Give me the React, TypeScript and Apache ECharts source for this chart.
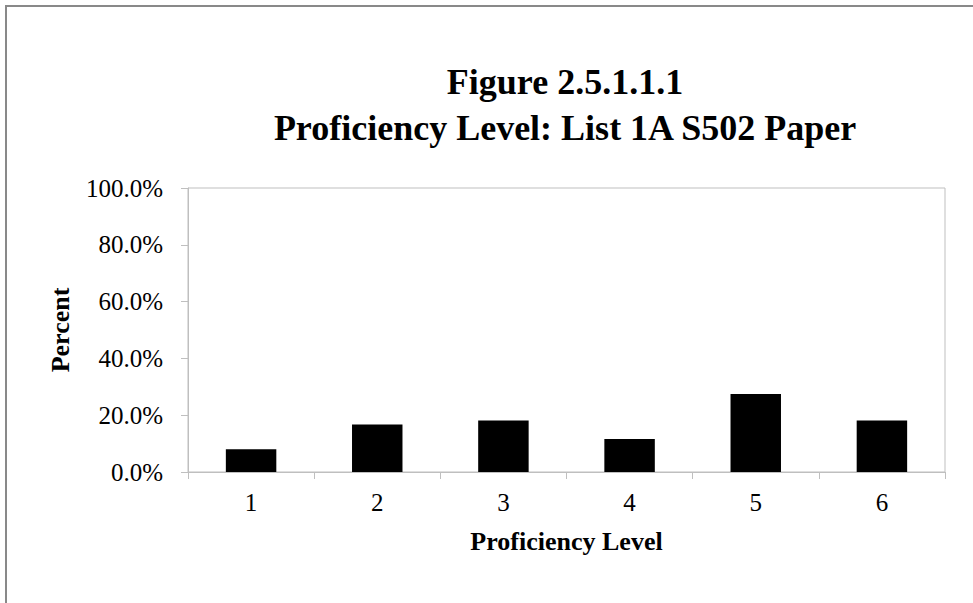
import React, { useEffect, useRef } from "react";
import * as echarts from "echarts";

const categories = ["1", "2", "3", "4", "5", "6"];
const percentValues = [8.0, 16.7, 18.1, 11.6, 27.5, 18.1];
const titleLines = ["Figure 2.5.1.1.1", "Proficiency Level: List 1A S502 Paper"];
const xAxisTitle = "Proficiency Level";
const yAxisTitle = "Percent";

const FONT = "'Liberation Serif', 'Times New Roman', serif";

export default function App() {
  const ref = useRef<HTMLDivElement>(null);
  useEffect(() => {
    if (!ref.current) return;
    const chart = echarts.init(ref.current, undefined, { renderer: "svg" });
    chart.setOption({
      animation: false,
      backgroundColor: "#ffffff",
      textStyle: { fontFamily: FONT },
      title: {
        text: titleLines.join("\n"),
        left: 560,
        top: 54,
        textAlign: "center",
        textStyle: {
          fontFamily: FONT,
          fontSize: 36,
          fontWeight: "bold",
          color: "#000",
          lineHeight: 46,
        },
      },
      graphic: [
        {
          type: "rect",
          shape: { x: 6, y: 6, width: 1100, height: 800 },
          style: { fill: "none", stroke: "#898989", lineWidth: 2 },
          silent: true,
        },
      ],
      grid: {
        left: 188,
        right: 28,
        top: 188,
        bottom: 131,
        show: true,
        borderColor: "#BFBFBF",
        borderWidth: 1,
      },
      xAxis: {
        type: "category",
        data: categories,
        name: xAxisTitle,
        nameLocation: "middle",
        nameGap: 56,
        nameTextStyle: { fontFamily: FONT, fontSize: 26, fontWeight: "bold", color: "#000" },
        axisLine: { lineStyle: { color: "#BFBFBF", width: 1 } },
        axisTick: { show: true, length: 7, lineStyle: { color: "#BFBFBF" } },
        axisLabel: { fontFamily: FONT, fontSize: 25, color: "#000", margin: 18 },
      },
      yAxis: {
        type: "value",
        min: 0,
        max: 100,
        interval: 20,
        name: yAxisTitle,
        nameLocation: "middle",
        nameGap: 115,
        nameRotate: 90,
        nameTextStyle: { fontFamily: FONT, fontSize: 26, fontWeight: "bold", color: "#000" },
        axisLine: { show: true, lineStyle: { color: "#BFBFBF", width: 1 } },
        axisTick: { show: true, length: 7, lineStyle: { color: "#BFBFBF" } },
        splitLine: { show: false },
        axisLabel: {
          fontFamily: FONT,
          fontSize: 25,
          color: "#000",
          margin: 25,
          formatter: (v: number) => v.toFixed(1) + "%",
        },
      },
      series: [
        {
          type: "bar",
          data: percentValues,
          barCategoryGap: "60%",
          itemStyle: { color: "#000000" },
        },
      ],
    });
    return () => chart.dispose();
  }, []);
  return (
    <div
      ref={ref}
      style={{ position: "absolute", left: 0, top: 0, width: 973, height: 603 }}
    />
  );
}
